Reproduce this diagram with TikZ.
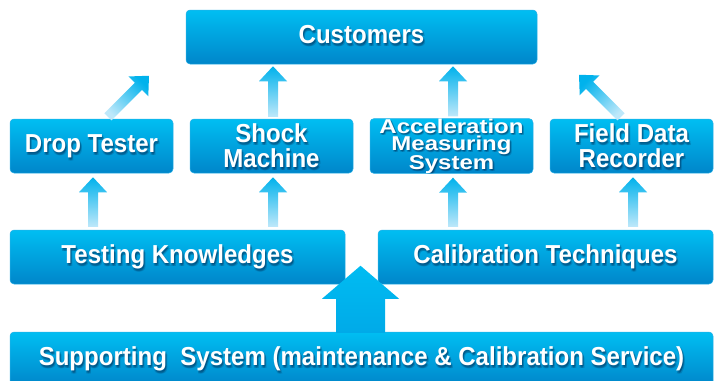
\documentclass[tikz,border=0pt]{standalone}
\usepackage{fontspec}
\usetikzlibrary{calc}
\newfontfamily\condfam{Liberation Sans}[FakeStretch=0.925]
\newfontfamily\widefam{Liberation Sans}[FakeStretch=1.2]
\newcommand\bigf{\condfam\bfseries\fontsize{26pt}{25pt}\selectfont}
\newcommand\accf{\widefam\bfseries\fontsize{20pt}{17pt}\selectfont}
\definecolor{boxtop}{RGB}{0,190,242}
\definecolor{boxbot}{RGB}{0,134,202}
\definecolor{boxedge}{RGB}{40,175,230}
\definecolor{arrc}{RGB}{0,178,236}
\definecolor{arrlight}{RGB}{190,232,250}
\definecolor{bigtop}{RGB}{0,188,242}
\definecolor{bigbot}{RGB}{0,170,232}
\definecolor{shadc}{RGB}{0,40,80}
\tikzset{
 txtbase/.style={inner sep=0pt, align=center, font=\bigf},
 singleline/.style={text height=19pt, text depth=5.5pt},
 bbox/.style={txtbase, rounded corners=4pt, top color=boxtop, bottom color=boxbot,
   draw=boxedge, line width=0.5pt, text=white, minimum height=54pt},
}
\newcommand\bnode[5][]{%
 \node[bbox, minimum width=#4, #1, path picture={%
   \foreach \dx/\dy in {1/-1.5, 2/-2.5, 1.5/-1, 0.5/-2.5} {
     \node[txtbase, #1, text=shadc, opacity=0.2] at ([xshift=\dx pt, yshift=\dy pt]path picture bounding box.center) {#5};
   }}] (#2) at (#3) {#5};}
\newcommand\fatarrow[7]{%
 \coordinate (fa-b) at ($(#2)!#5!(#1)$);
 \pgfpointdiff{\pgfpointanchor{#1}{center}}{\pgfpointanchor{#2}{center}}%
 \pgfgetlastxy{\adx}{\ady}%
 \pgfmathsetmacro\aang{atan2(\ady,\adx)}%
 \pgfmathsetmacro\ashade{\aang-90}%
 \shade[top color=#6, bottom color=#7, shading angle=\ashade]
  ($(#1)!#3!90:(#2)$) -- ($(fa-b)!#3!90:(#2)$) -- ($(fa-b)!#4!90:(#2)$) -- (#2)
  -- ($(fa-b)!#4!-90:(#2)$) -- ($(fa-b)!#3!-90:(#2)$) -- ($(#1)!#3!-90:(#2)$) -- cycle;}
\begin{document}
\begin{tikzpicture}[x=1pt,y=-1pt]
\clip (0,0) rectangle (714,380);
\bnode[singleline]{cust}{361.5,37}{351pt}{Customers}
\bnode[singleline]{drop}{91.5,146}{163pt}{Drop Tester}
\bnode{shock}{271.5,146}{163pt}{Shock\\Machine}
\bnode[font=\accf]{accel}{451.5,146}{163pt}{Acceleration\\Measuring\\System}
\bnode{field}{631.5,146}{163pt}{Field Data\\Recorder}
\bnode[singleline]{tk}{177.5,257}{335pt}{Testing Knowledges}
\bnode[singleline]{cal}{545.5,257}{335pt}{Calibration Techniques}
\bnode[singleline]{supp}{361.5,359}{703pt}{Supporting\ \ System (maintenance \& Calibration Service)}
% upper arrows
\coordinate (u1s) at ($(drop.north)+(16.5,-2)$);
\coordinate (u1e) at ($(u1s)+(41,-41)$);
\coordinate (u2s) at ($(shock.north)+(1.5,-2)$);
\coordinate (u2e) at ($(u2s |- cust.south)+(0,2)$);
\coordinate (u3s) at ($(accel.north)+(1.5,-2)$);
\coordinate (u3e) at ($(u3s |- cust.south)+(0,2)$);
\coordinate (u4s) at ($(field.north)+(-10.5,-2)$);
\coordinate (u4e) at ($(u4s)+(-42,-42)$);
% lower arrows
\coordinate (l1e) at ($(drop.south)+(1.5,4)$);
\coordinate (l1s) at ($(l1e |- tk.north)+(0,-3)$);
\coordinate (l2e) at ($(shock.south)+(1.5,4)$);
\coordinate (l2s) at ($(l2e |- tk.north)+(0,-3)$);
\coordinate (l3e) at ($(accel.south)+(1.5,4)$);
\coordinate (l3s) at ($(l3e |- cal.north)+(0,-3)$);
\coordinate (l4e) at ($(field.south)+(1.5,4)$);
\coordinate (l4s) at ($(l4e |- cal.north)+(0,-3)$);
% big arrow
\coordinate (bs) at ($(supp.north)+(-1,1)$);
\coordinate (be) at ($(bs)+(0,-67)$);
\fatarrow{u1s}{u1e}{5pt}{14pt}{15pt}{arrc}{arrlight}
\fatarrow{u2s}{u2e}{5pt}{14pt}{15pt}{arrc}{arrlight}
\fatarrow{u3s}{u3e}{5pt}{14pt}{15pt}{arrc}{arrlight}
\fatarrow{u4s}{u4e}{5pt}{14pt}{15pt}{arrc}{arrlight}
\fatarrow{l1s}{l1e}{5pt}{14pt}{15pt}{arrc}{arrlight}
\fatarrow{l2s}{l2e}{5pt}{14pt}{15pt}{arrc}{arrlight}
\fatarrow{l3s}{l3e}{5pt}{14pt}{15pt}{arrc}{arrlight}
\fatarrow{l4s}{l4e}{5pt}{14pt}{15pt}{arrc}{arrlight}
\fatarrow{bs}{be}{24.5pt}{38.5pt}{33pt}{bigtop}{bigbot}
\end{tikzpicture}
\end{document}
